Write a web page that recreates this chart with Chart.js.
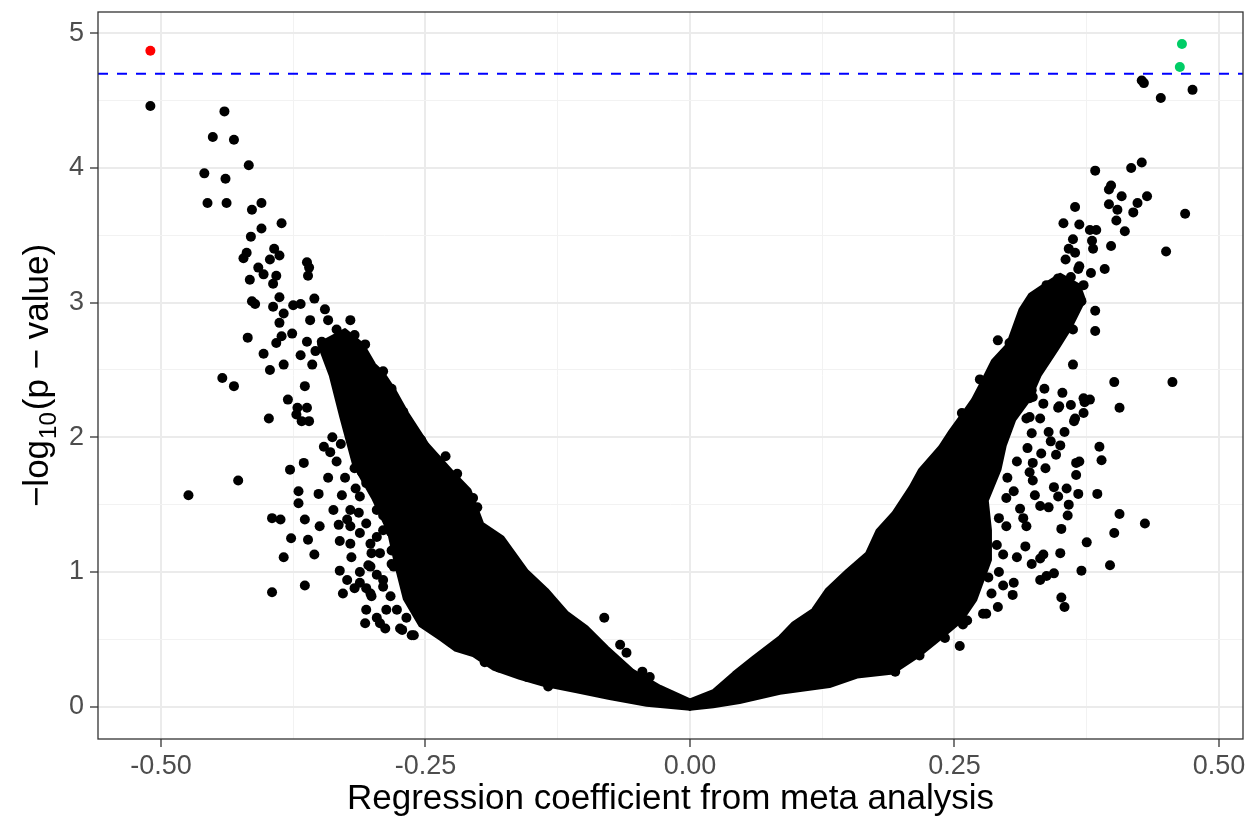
<!DOCTYPE html>
<html>
<head>
<meta charset="utf-8">
<script src="https://cdn.jsdelivr.net/npm/chart.js@4.4.1/dist/chart.umd.min.js"></script>
<style>
  html, body { margin: 0; padding: 0; background: #fff; }
</style>
</head>
<body>
<canvas id="volcano" width="1249" height="821"></canvas>
<script>
// ---- axis setup ----
const xRange = [-0.5595, 0.5227];
const yRange = [-0.24, 5.158];
const xTicks = [-0.5, -0.375, -0.25, -0.125, 0, 0.125, 0.25, 0.375, 0.5];
const xMajor = [-0.5, -0.25, 0, 0.25, 0.5];
const yTicks = [0, 0.5, 1, 1.5, 2, 2.5, 3, 3.5, 4, 4.5, 5];
const yMajor = [0, 1, 2, 3, 4, 5];
const threshold = 4.70;

// significant hits
const sigNeg = [[-0.510, 4.87]];
const sigPos = [[0.465, 4.92], [0.463, 4.75]];

// outline of the solid (overplotted) cloud, left and right arms
const leftBand = [
  [-0.345,2.72],[-0.326,2.80],[-0.309,2.69],[-0.298,2.54],[-0.290,2.48],[-0.279,2.35],[-0.267,2.18],
  [-0.248,1.95],[-0.224,1.74],[-0.208,1.61],[-0.196,1.36],[-0.177,1.26],[-0.154,1.01],[-0.135,0.87],
  [-0.116,0.70],[-0.097,0.59],[-0.078,0.44],[-0.054,0.27],[-0.028,0.15],[0,0.05],[0,-0.02],
  [-0.041,0.01],[-0.076,0.06],[-0.107,0.11],[-0.139,0.16],[-0.161,0.21],[-0.186,0.28],[-0.205,0.38],
  [-0.222,0.42],[-0.236,0.50],[-0.255,0.60],[-0.270,0.80],[-0.278,1.05],[-0.285,1.30],[-0.300,1.55],
  [-0.318,1.80],[-0.330,2.15],[-0.340,2.46],[-0.351,2.69],[-0.345,2.72]
];
const rightBand = [
  [0,0.05],[0.022,0.12],[0.041,0.25],[0.060,0.37],[0.085,0.52],[0.097,0.62],[0.116,0.72],[0.129,0.87],
  [0.148,1.01],[0.167,1.14],[0.177,1.31],[0.192,1.44],[0.208,1.63],[0.217,1.76],[0.236,1.93],
  [0.246,2.05],[0.258,2.18],[0.267,2.28],[0.277,2.43],[0.286,2.57],[0.300,2.69],[0.312,2.95],
  [0.321,3.06],[0.334,3.13],[0.350,3.21],[0.368,3.13],[0.373,3.02],[0.359,2.80],[0.347,2.65],
  [0.331,2.46],[0.321,2.28],[0.307,2.13],[0.298,1.94],[0.293,1.76],[0.281,1.53],[0.284,1.31],
  [0.284,1.09],[0.270,0.79],[0.257,0.64],[0.236,0.50],[0.217,0.38],[0.192,0.25],[0.158,0.22],
  [0.132,0.15],[0.085,0.10],[0.047,0.03],[0.022,0.00],[0,-0.02],[0,0.05]
];

// individual genes visible outside the solid cloud
const genesNeg = [
  [-0.510,4.46],[-0.440,4.42],[-0.451,4.23],[-0.431,4.21],[-0.417,4.02],[-0.459,3.96],[-0.439,3.92],
  [-0.456,3.74],[-0.438,3.74],[-0.405,3.74],[-0.414,3.69],[-0.386,3.59],[-0.405,3.55],[-0.415,3.49],
  [-0.419,3.37],[-0.422,3.33],[-0.393,3.40],[-0.388,3.35],[-0.397,3.32],[-0.362,3.30],[-0.360,3.26],
  [-0.361,3.20],[-0.408,3.26],[-0.403,3.21],[-0.391,3.20],[-0.394,3.14],[-0.416,3.17],[-0.414,3.01],
  [-0.411,2.99],[-0.388,3.04],[-0.394,2.97],[-0.384,2.92],[-0.375,2.98],[-0.368,2.99],[-0.355,3.03],
  [-0.345,2.95],[-0.388,2.85],[-0.359,2.87],[-0.342,2.87],[-0.418,2.74],[-0.376,2.77],[-0.386,2.75],
  [-0.391,2.70],[-0.362,2.71],[-0.348,2.71],[-0.334,2.80],[-0.324,2.71],[-0.321,2.87],[-0.317,2.76],
  [-0.331,2.69],[-0.403,2.62],[-0.368,2.61],[-0.354,2.64],[-0.384,2.54],[-0.397,2.50],[-0.357,2.54],
  [-0.307,2.69],[-0.306,2.57],[-0.290,2.49],[-0.442,2.44],[-0.431,2.38],[-0.364,2.38],[-0.282,2.36],
  [-0.380,2.28],[-0.371,2.22],[-0.362,2.22],[-0.271,2.19],[-0.398,2.14],[-0.367,2.12],[-0.360,2.12],
  [-0.372,2.17],[-0.346,1.93],[-0.340,1.89],[-0.365,1.81],[-0.334,1.82],[-0.378,1.76],[-0.317,1.77],
  [-0.342,1.70],[-0.427,1.68],[-0.474,1.57],[-0.370,1.60],[-0.351,1.58],[-0.370,1.51],[-0.329,1.57],
  [-0.337,1.46],[-0.395,1.40],[-0.387,1.39],[-0.364,1.39],[-0.350,1.34],[-0.332,1.35],[-0.377,1.25],
  [-0.361,1.24],[-0.331,1.23],[-0.321,1.21],[-0.355,1.13],[-0.384,1.11],[-0.320,1.11],[-0.331,1.01],
  [-0.302,1.04],[-0.324,0.94],[-0.364,0.90],[-0.395,0.85],[-0.328,0.84],[-0.312,0.92],[-0.302,0.84],
  [-0.306,0.72],[-0.307,0.62],[-0.293,0.62],[-0.287,0.72],[-0.272,0.57],[-0.261,0.53],[-0.290,0.89],
  [-0.280,1.04],[-0.293,1.14],[-0.312,1.29],[-0.302,1.21],[-0.290,1.31],[-0.306,1.66],[-0.312,1.56],
  [-0.321,1.46],[-0.296,1.46],[-0.324,1.39],[-0.254,1.98],[-0.231,1.86],[-0.220,1.73],[-0.321,1.34],
  [-0.317,0.88],[-0.306,0.88],[-0.301,0.82],[-0.290,0.94],[-0.282,1.06],[-0.304,1.05],[-0.301,1.14],
  [-0.306,1.36],[-0.290,1.42],[-0.283,1.30],[-0.282,1.16],[-0.283,0.82],[-0.277,0.72],[-0.274,0.58],
  [-0.263,0.53],[-0.081,0.66],[-0.066,0.46],[-0.060,0.40],[-0.134,0.15],[-0.205,1.55],[-0.201,1.48],
  [-0.045,0.26],[-0.038,0.22],[-0.194,0.33],[-0.180,0.29],[-0.167,0.26],[-0.154,0.22],[-0.142,0.21],
  [-0.312,1.00],[-0.296,0.98],[-0.316,1.62],[-0.326,1.70],[-0.310,1.74],[-0.338,2.00],[-0.330,1.95],
  [-0.296,0.66],[-0.288,0.58],[-0.268,0.66],[-0.296,1.26],[-0.313,1.44]
];
const genesPos = [
  [0.427,4.65],[0.429,4.63],[0.445,4.52],[0.475,4.58],[0.383,3.98],[0.417,4.00],[0.427,4.04],
  [0.398,3.87],[0.396,3.84],[0.408,3.79],[0.432,3.79],[0.396,3.73],[0.423,3.74],[0.404,3.69],
  [0.364,3.71],[0.419,3.67],[0.468,3.66],[0.403,3.61],[0.353,3.59],[0.368,3.58],[0.411,3.53],
  [0.378,3.54],[0.384,3.54],[0.362,3.47],[0.380,3.46],[0.398,3.42],[0.358,3.40],[0.381,3.40],
  [0.364,3.37],[0.450,3.38],[0.355,3.32],[0.392,3.25],[0.367,3.25],[0.379,3.22],[0.360,3.19],
  [0.348,3.18],[0.337,3.13],[0.372,3.13],[0.353,3.09],[0.364,3.08],[0.370,3.01],[0.324,3.04],
  [0.351,3.06],[0.383,2.94],[0.383,2.79],[0.362,2.80],[0.353,2.87],[0.315,2.91],[0.345,2.71],
  [0.340,2.62],[0.291,2.72],[0.362,2.54],[0.401,2.41],[0.456,2.41],[0.335,2.36],[0.352,2.33],
  [0.372,2.29],[0.378,2.28],[0.334,2.25],[0.348,2.22],[0.360,2.24],[0.406,2.22],[0.372,2.18],
  [0.323,2.35],[0.331,2.14],[0.364,2.14],[0.321,2.29],[0.328,2.57],[0.321,2.48],[0.302,2.70],
  [0.349,2.23],[0.373,2.26],[0.363,2.12],[0.318,2.14],[0.354,2.04],[0.339,2.04],[0.323,2.03],
  [0.341,1.97],[0.350,1.94],[0.387,1.93],[0.389,1.83],[0.319,1.92],[0.332,1.88],[0.346,1.87],
  [0.324,1.81],[0.336,1.77],[0.365,1.81],[0.368,1.82],[0.365,1.72],[0.309,1.82],[0.321,1.74],
  [0.324,1.68],[0.344,1.63],[0.356,1.62],[0.348,1.56],[0.367,1.58],[0.385,1.58],[0.326,1.57],
  [0.331,1.49],[0.339,1.48],[0.358,1.50],[0.357,1.42],[0.406,1.43],[0.430,1.36],[0.401,1.29],
  [0.351,1.32],[0.375,1.22],[0.397,1.05],[0.370,1.01],[0.350,1.14],[0.334,1.13],[0.331,1.10],
  [0.344,0.99],[0.337,0.97],[0.331,0.94],[0.351,0.81],[0.354,0.74],[0.317,1.19],[0.323,1.06],
  [0.309,1.11],[0.296,1.13],[0.296,0.90],[0.306,0.92],[0.305,0.83],[0.318,1.34],[0.315,1.40],
  [0.312,1.47],[0.299,1.34],[0.299,1.55],[0.291,0.74],[0.280,0.69],[0.258,0.61],[0.255,0.45],
  [0.241,0.51],[0.285,0.84],[0.274,1.24],[0.217,0.38],[0.194,0.26],[0.262,0.64],[0.277,0.69],
  [0.321,2.15],[0.324,2.30],[0.323,2.40],[0.331,2.52],[0.337,2.65],[0.343,2.71],[0.368,3.27],
  [0.310,2.80],[0.287,2.52],[0.274,2.43],[0.257,2.18],
  [0.292,1.40],[0.290,1.20],[0.292,1.00],[0.300,1.70],[0.306,1.60],[0.282,0.96],[0.270,0.88]
];

// ---- helpers ----
const toXY = arr => arr.map(([x, y]) => ({ x, y }));
const near = (v, list) => list.some(m => Math.abs(m - v) < 1e-9);
const FONT = "'Liberation Sans', Arial, sans-serif";

const pointStyle = color => ({
  type: 'scatter', backgroundColor: color, borderWidth: 0, pointRadius: 5, pointHoverRadius: 5
});

// panel border + y title (with subscript) drawn on the canvas
const ggExtras = {
  id: 'ggExtras',
  afterDatasetsDraw(chart) {
    const { ctx, chartArea: a } = chart;
    ctx.save();
    ctx.strokeStyle = '#333333';
    ctx.lineWidth = 1.3;
    ctx.strokeRect(a.left, a.top, a.right - a.left, a.bottom - a.top);
    ctx.restore();
  },
  afterDraw(chart) {
    const { ctx, chartArea: a } = chart;
    const big = 35, small = 24;
    const p1 = '\u2212log', p2 = '10', p3 = '(p \u2212 value)';
    ctx.save();
    ctx.font = big + 'px ' + FONT;
    const w1 = ctx.measureText(p1).width, w3 = ctx.measureText(p3).width;
    ctx.font = small + 'px ' + FONT;
    const w2 = ctx.measureText(p2).width;
    const total = w1 + w2 + w3 + 3;
    ctx.translate(a.left - 50, (a.top + a.bottom) / 2);
    ctx.rotate(-Math.PI / 2);
    ctx.fillStyle = '#000';
    ctx.textBaseline = 'alphabetic';
    let x = -total / 2;
    ctx.font = big + 'px ' + FONT;
    ctx.fillText(p1, x, 0);
    x += w1 + 1;
    ctx.font = small + 'px ' + FONT;
    ctx.fillText(p2, x, 8);
    x += w2 + 2;
    ctx.font = big + 'px ' + FONT;
    ctx.fillText(p3, x, 0);
    ctx.restore();
  }
};

const gridFor = major => ({
  color: c => near(c.tick.value, major) ? '#ebebeb' : '#f2f2f2',
  lineWidth: c => near(c.tick.value, major) ? 2 : 1,
  tickColor: c => near(c.tick.value, major) ? '#333333' : 'rgba(0,0,0,0)',
  tickWidth: 1.3,
  tickLength: 8,
  drawTicks: true
});

new Chart(document.getElementById('volcano'), {
  type: 'scatter',
  data: {
    datasets: [
      {
        type: 'scatter', showLine: true, order: 0,
        data: [{ x: xRange[0], y: threshold }, { x: xRange[1], y: threshold }],
        borderColor: '#0000ff', borderWidth: 2, borderDash: [10, 9], pointRadius: 0, fill: false
      },
      Object.assign(pointStyle('#ff0000'), { data: toXY(sigNeg), order: 1 }),
      Object.assign(pointStyle('#00cd66'), { data: toXY(sigPos), order: 1 }),
      Object.assign(pointStyle('#000000'), { data: toXY(genesNeg), order: 2 }),
      Object.assign(pointStyle('#000000'), { data: toXY(genesPos), order: 2 }),
      {
        type: 'scatter', showLine: true, order: 3, data: toXY(leftBand),
        borderColor: '#000', backgroundColor: '#000', borderWidth: 3, borderJoinStyle: 'round',
        pointRadius: 0, tension: 0, fill: 'shape'
      },
      {
        type: 'scatter', showLine: true, order: 3, data: toXY(rightBand),
        borderColor: '#000', backgroundColor: '#000', borderWidth: 3, borderJoinStyle: 'round',
        pointRadius: 0, tension: 0, fill: 'shape'
      }
    ]
  },
  options: {
    responsive: false,
    animation: false,
    devicePixelRatio: 1,
    layout: { padding: { top: 12, right: 6, left: 0, bottom: 0 } },
    plugins: { legend: { display: false }, tooltip: { enabled: false } },
    scales: {
      x: {
        type: 'linear', min: xRange[0], max: xRange[1],
        afterBuildTicks: s => { s.ticks = xTicks.map(v => ({ value: v })); },
        afterFit: s => { s.height = 82; s.paddingLeft = 0; s.paddingRight = 0; },
        grid: gridFor(xMajor),
        border: { display: false },
        ticks: {
          autoSkip: false, maxRotation: 0, padding: 3, color: '#4d4d4d',
          font: { size: 27, family: FONT },
          callback: v => near(v, xMajor) ? v.toFixed(2) : ''
        },
        title: {
          display: true, text: 'Regression coefficient from meta analysis', color: '#000',
          font: { size: 35, family: FONT }, padding: { top: 0, bottom: 1 }
        }
      },
      y: {
        type: 'linear', min: yRange[0], max: yRange[1],
        afterBuildTicks: s => { s.ticks = yTicks.map(v => ({ value: v })); },
        afterFit: s => { s.width = 98; s.paddingTop = 0; s.paddingBottom = 0; },
        grid: gridFor(yMajor),
        border: { display: false },
        ticks: {
          autoSkip: false, padding: 6, color: '#4d4d4d',
          font: { size: 27, family: FONT },
          callback: v => near(v, yMajor) ? String(v) : ''
        }
      }
    }
  },
  plugins: [ggExtras]
});
</script>
</body>
</html>
